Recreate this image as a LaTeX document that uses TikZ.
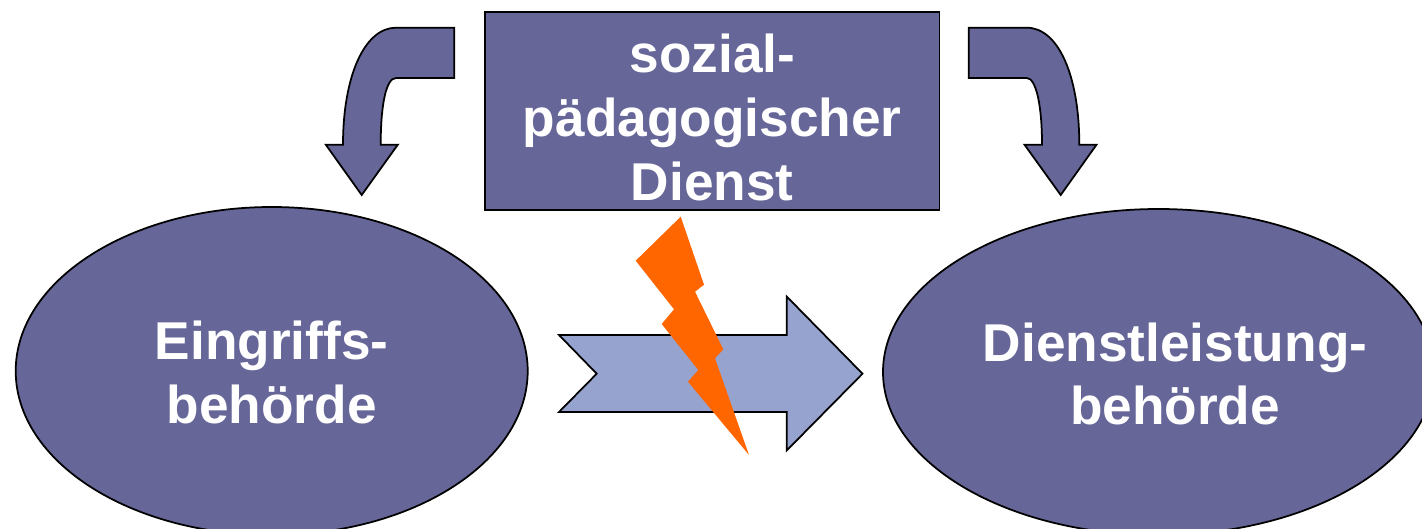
\documentclass[tikz,border=0pt]{standalone}
\usepackage{fontspec}
\setmainfont{Liberation Sans}
\usetikzlibrary{shapes.geometric}
\definecolor{dunkel}{HTML}{666699}
\definecolor{hell}{HTML}{96A3CF}
\definecolor{blitz}{HTML}{FF6600}
\begin{document}
\begin{tikzpicture}[x=0.02cm,y=-0.02cm]

\tikzstyle{el} = [ellipse,inner sep=0pt,draw=black,line width=1pt,fill=dunkel,text=white,align=center,font=\fontsize{30.3}{36.3}\selectfont\bfseries]
\tikzstyle{bx} = [rectangle,inner sep=0pt,draw=black,line width=1pt,fill=dunkel,text=white,align=center,font=\fontsize{30.3}{36.3}\selectfont\bfseries]
\tikzstyle{bogen} = [draw=black,line width=1pt,fill=dunkel,line join=miter]
\path[use as bounding box,clip] (0,0) rectangle (1422,528);
\node (eingriff) [el,minimum width=512*0.02cm,minimum height=328*0.02cm] at (271.7,371) {\rule{0pt}{24pt}Eingriffs-\\behörde};
\node (dienstl) [el,minimum width=551*0.02cm,minimum height=326*0.02cm] at (1158.5,372) {};
\node (dienstltext) [text=white,inner sep=0pt,align=center,font=\fontsize{30.3}{36.3}\selectfont\bfseries] at (1175,374) {Dienstleistung-\\behörde};
\node (sozial) [bx,minimum width=454.5*0.02cm,minimum height=198*0.02cm] at (712.3,111) {\rule{0pt}{29pt}sozial-\\pädagogischer\\Dienst};
\draw[bogen] (454.2,27.7) -- (454.2,78) -- (396,78) .. controls (386,78) and (380.7,105) .. (380.7,144.7) -- (397.8,144.7) -- (361.7,195) -- (325.8,144.7) -- (343,144.7) .. controls (343,75) and (365,27.7) .. (396,27.7) -- cycle;
\draw[bogen] (968.8,27.7) -- (1026.7,27.7) .. controls (1058,27.7) and (1079.3,75) .. (1079.3,144.7) -- (1096.5,144.7) -- (1060.7,195) -- (1024.5,144.7) -- (1042,144.7) .. controls (1042,105) and (1036,78) .. (1026.7,78) -- (968.8,78) -- cycle;
\draw[draw=black,line width=1pt,fill=hell] (559,335) -- (786.7,335) -- (786.7,296.5) -- (862.5,373.7) -- (786.7,450.5) -- (786.7,412) -- (559,412) -- (596.7,373.7) -- cycle;
\fill[blitz] (680.7,216.7) -- (704,284.7) -- (695,291.7) -- (723.3,349.3) -- (715,358.3) -- (749,455) -- (688,381.7) -- (698.3,370) -- (661.7,324) -- (674,309.3) -- (635.7,260.7) -- cycle;
\end{tikzpicture}
\end{document}
